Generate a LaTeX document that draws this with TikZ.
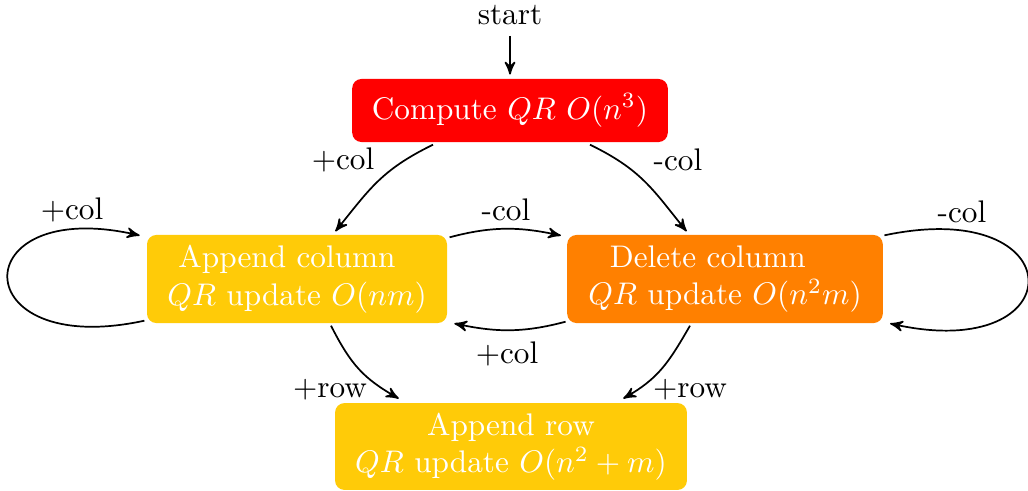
\documentclass[tikz,border=0pt]{standalone}
\usetikzlibrary{calc,arrows}
\definecolor{gold}{RGB}{255,203,8}
\definecolor{deeporange}{RGB}{255,128,0}
\begin{document}
\begin{tikzpicture}[x=0.32pt,y=0.32pt, >=stealth',
  state/.style={rounded corners=3pt, text=white, align=center, inner sep=0pt},
  link/.style={->, line width=0.55pt, shorten >=1.2pt},
  lbl/.style={inner sep=0pt}]
\useasboundingbox (0,0) rectangle (1028,490);

% states
\node (start) at (510,475) {start};
\node[state, fill=red, minimum width=101pt, minimum height=20.2pt] (cq) at (510,379.5)
  {Compute $QR$ $O(n^3)$};
\node[state, fill=gold, minimum width=96pt, minimum height=28.2pt] (ac) at (297,211)
  {Append column\hspace*{6.4pt}\\$QR$ update $O(nm)$};
\node[state, fill=deeporange, minimum width=101pt, minimum height=28.2pt] (dc) at (725,211)
  {Delete column\hspace*{11pt}\\$QR$ update $O(n^2m)$};
\node[state, fill=gold, minimum width=112.6pt, minimum height=27.8pt] (ar) at (511,43.5)
  {Append row\\$QR$ update $O(n^2+m)$};

% transitions
\draw[link] (start.south) -- (cq.north);
\draw[link] ($(cq.south)+(-77,-2)$) to[out=206,in=51,looseness=1.1] ($(ac.north)+(36,0)$)
  node[lbl] at (343,330) {+col};
\draw[link] ($(cq.south)+(80,-2)$) to[out=-26,in=129,looseness=1.1] ($(dc.north)+(-36,0)$)
  node[lbl] at (678,330) {-col};
\draw[link] ($(ac.north east)+(2,-3)$) to[out=15,in=168] ($(dc.north west)+(-2,-2)$)
  node[lbl] at (506,280) {-col};
\draw[link] ($(dc.south west)+(-1,2)$) to[out=195,in=-12] ($(ac.south east)+(3,1)$)
  node[lbl] at (507,136) {+col};
\draw[link] ($(ac.south west)+(-2,3)$) .. controls (-37,130) and (-37,295) .. ($(ac.north west)+(-3,-2)$)
  node[lbl] at (72,280) {+col};
\draw[link] ($(dc.north east)+(1,-1)$) .. controls (1075,295) and (1075,125) .. ($(dc.south east)+(3,1)$)
  node[lbl] at (962,278) {-col};
\draw[link] ($(ac.south)+(34,-2)$) to[out=-63,in=150,looseness=1.1] ($(ar.north)+(-109,2)$)
  node[lbl] at (330,100) {+row};
\draw[link] ($(dc.south)+(-35,-2)$) to[out=240,in=30,looseness=1.1] ($(ar.north)+(109,2)$)
  node[lbl] at (690,100) {+row};
\end{tikzpicture}
\end{document}
